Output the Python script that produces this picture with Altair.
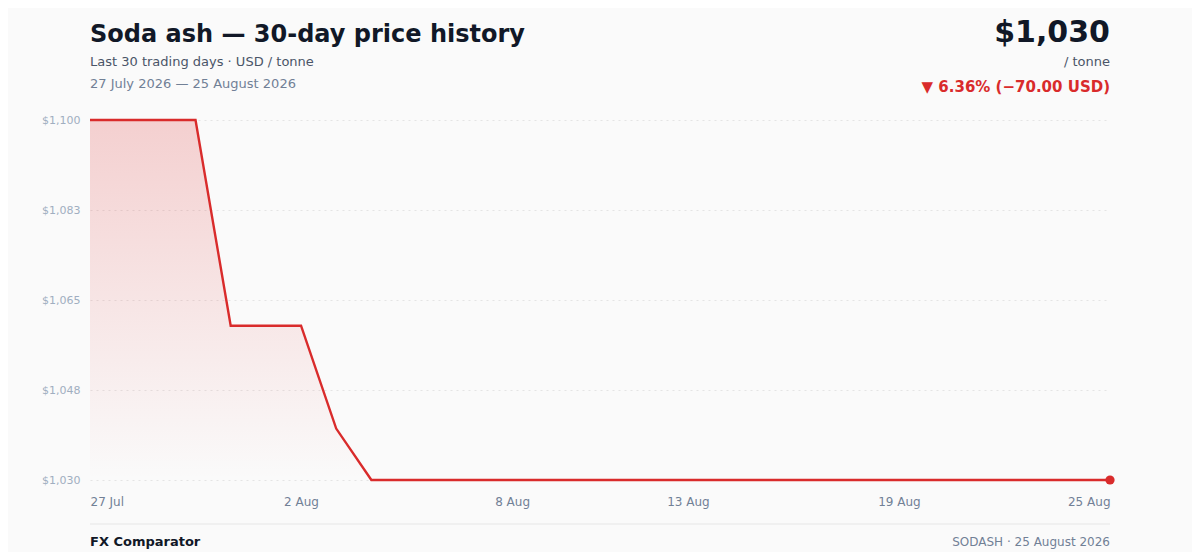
import altair as alt
import pandas as pd

dates = pd.date_range("2026-07-27", "2026-08-25", freq="D").strftime("%Y-%m-%d").tolist()
prices = [1100, 1100, 1100, 1100, 1060, 1060, 1060, 1040, 1030, 1030,
          1030, 1030, 1030, 1030, 1030, 1030, 1030, 1030, 1030, 1030,
          1030, 1030, 1030, 1030, 1030, 1030, 1030, 1030, 1030, 1030]
y_ticks = [1030, 1047.5, 1065, 1082.5, 1100]
x_ticks = [(7, 27), (8, 2), (8, 8), (8, 13), (8, 19), (8, 25)]

title = "Soda ash — 30-day price history"
subtitle = "Last 30 trading days · USD / tonne"
range_txt = "27 July 2026 — 25 August 2026"
price_txt = "$1,030"
unit_txt = "/ tonne"
change_txt = "▼ 6.36% (−70.00 USD)"
brand = "FX Comparator"
footer_right = "SODASH · 25 August 2026"

RED = "#d92b2b"
FONT = "DejaVu Sans"
W, H = 1020, 360

df = pd.DataFrame({"date": dates, "price": prices})
last = df.tail(1)

x_enc = alt.X("date:T", scale=alt.Scale(type="utc", domain=[dates[0], dates[-1]]),
              axis=alt.Axis(values=[alt.DateTime(year=2026, month=m, date=d, utc=True) for m, d in x_ticks],
                            labelExpr="utcFormat(datum.value, '%-d %b')", labelFlush=True,
                            domain=False, ticks=False, grid=False, labelColor="#718096",
                            labelFontSize=12, labelPadding=16, labelFont=FONT, title=None))
y_enc = alt.Y("price:Q", scale=alt.Scale(domain=[1030, 1100], zero=False, nice=False),
              axis=alt.Axis(values=y_ticks, format="$,.0f", domain=False, ticks=False,
                            grid=True, gridColor="#e4e4e4", gridDash=[2, 4], gridWidth=1,
                            labelColor="#a0aec0", labelFontSize=11, labelPadding=10,
                            labelFont=FONT, title=None))

base = alt.Chart(df)

area = base.mark_area(
    color=alt.Gradient(gradient="linear", x1=0, y1=0, x2=0, y2=1,
                       stops=[alt.GradientStop(color="rgba(220,38,38,0.2)", offset=0),
                              alt.GradientStop(color="rgba(220,38,38,0)", offset=1)]),
    interpolate="linear"
).encode(x=x_enc, y=y_enc, y2=alt.datum(1030))

line = base.mark_line(color=RED, strokeWidth=2.4).encode(x=x_enc, y=y_enc)
dot = alt.Chart(last).mark_circle(color=RED, size=85, opacity=1).encode(x=x_enc, y=y_enc)

ann = pd.DataFrame({"t": [0]})
def txt(text, x, y, size, color, weight="normal", align="left"):
    return alt.Chart(ann).mark_text(text=text, fontSize=size, color=color, fontWeight=weight,
                                    align=align, baseline="alphabetic", font=FONT).encode(
        x=alt.value(x), y=alt.value(y))

texts = [
    txt(title, 0, -78, 24, "#111827", "bold"),
    txt(subtitle, 0, -54, 13, "#4a5568"),
    txt(range_txt, 0, -32, 13, "#718096"),
    txt(price_txt, W, -78, 30, "#111827", "bold", "right"),
    txt(unit_txt, W, -54, 13, "#4a5568", align="right"),
    txt(change_txt, W, -28, 15, RED, "bold", "right"),
    txt(brand, 0, 66 + 360, 13, "#111827", "bold"),
    txt(footer_right, W, 66 + 360, 12, "#718096", align="right"),
]
rule = alt.Chart(ann).mark_rule(color="#e6e6e6", strokeWidth=1).encode(
    x=alt.value(0), x2=alt.value(W), y=alt.value(44 + 360))

chart = alt.layer(area, line, dot, rule, *texts).properties(
    width=W, height=H,
    autosize=alt.AutoSizeParams(type="none"),
    padding={"left": 82, "top": 112, "right": 82, "bottom": 72},
    background="#fafafa",
).configure_view(stroke=None)

chart.save("out.html", embed_options={"renderer": "svg", "actions": False})
